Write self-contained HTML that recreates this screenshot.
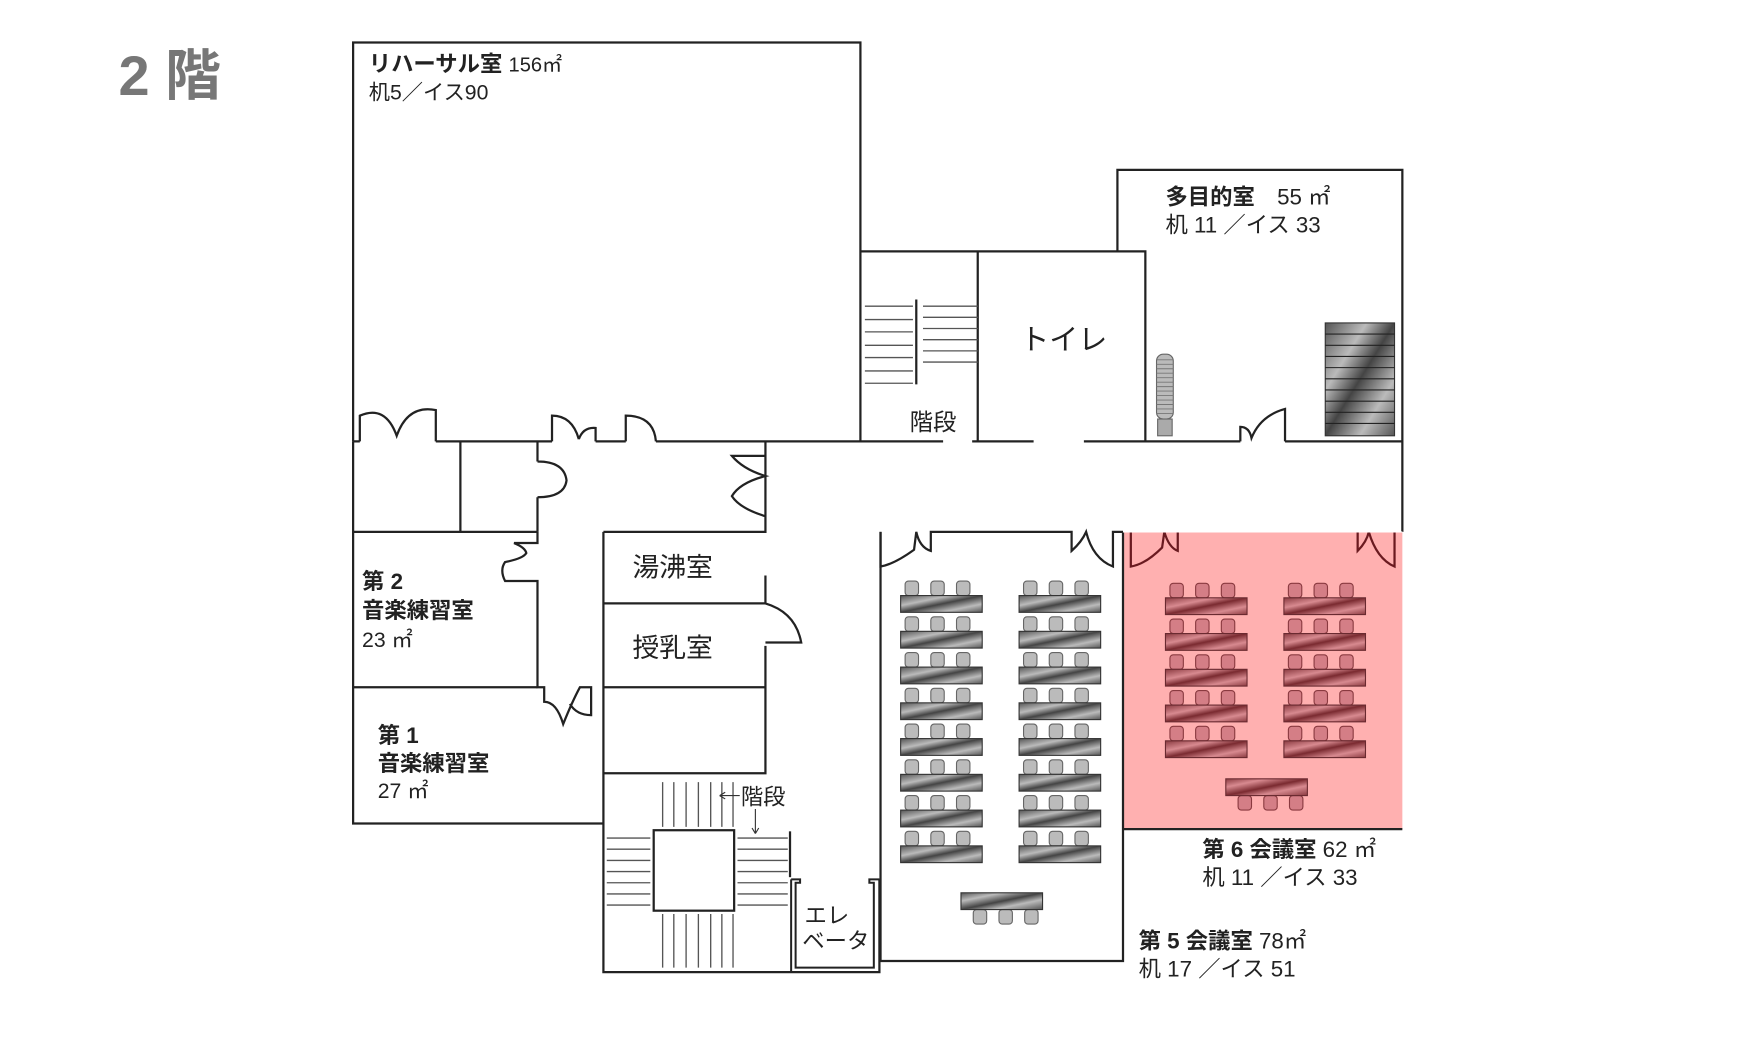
<!DOCTYPE html>
<html><head><meta charset="utf-8"><style>
html,body{margin:0;padding:0;background:#fff;}
svg{display:block}
text{font-family:"Liberation Sans","Noto Sans CJK JP",sans-serif;fill:#222}
.b{font-weight:bold}
</style></head><body>
<svg width="1751" height="1047" viewBox="0 0 1567 937" xmlns="http://www.w3.org/2000/svg">
<defs>
<linearGradient id="gg" x1="0" y1="0" x2="1" y2="1">
<stop offset="0" stop-color="#555"/><stop offset="0.3" stop-color="#bbb"/><stop offset="0.5" stop-color="#444"/><stop offset="0.75" stop-color="#bbb"/><stop offset="1" stop-color="#555"/></linearGradient>
<linearGradient id="rg" x1="0" y1="0" x2="1" y2="1">
<stop offset="0" stop-color="#8a3a40"/><stop offset="0.3" stop-color="#d88a90"/><stop offset="0.5" stop-color="#7a2a30"/><stop offset="0.75" stop-color="#d88a90"/><stop offset="1" stop-color="#8a3a40"/></linearGradient>
<g id="gset"><rect x="4" y="1" width="12" height="13" rx="3" fill="#bbb" stroke="#666"/><rect x="27" y="1" width="12" height="13" rx="3" fill="#bbb" stroke="#666"/><rect x="50" y="1" width="12" height="13" rx="3" fill="#bbb" stroke="#666"/><rect x="0" y="14" width="73" height="15" fill="url(#gg)" stroke="#333"/></g>
<g id="rset"><rect x="4" y="1" width="12" height="13" rx="3" fill="#d47e86" stroke="#8a3a40"/><rect x="27" y="1" width="12" height="13" rx="3" fill="#d47e86" stroke="#8a3a40"/><rect x="50" y="1" width="12" height="13" rx="3" fill="#d47e86" stroke="#8a3a40"/><rect x="0" y="14" width="73" height="15" fill="url(#rg)" stroke="#6a2a30"/></g>
</defs>
<text x="106" y="85" class="b" font-size="50" style="fill:#777">2 階</text>

<rect x="1005" y="476" width="250" height="266" fill="#ffb0b0"/>
<g fill="none" stroke="#222" stroke-width="2">
<path d="M316,395 V38 H770 V395"/>
<path d="M770,225 H1025 V395 M875,225 V395 M1000,225 V152 H1255 V476"/>
<path d="M316,395 H322 M390,395 H494 M533,395 H560 M587,395 H844 M870,395 H925 M970,395 H1110 M1150,395 H1255"/>
<path d="M322,395 V372 Q345,362 355,390 Q365,362 390,367 V395"/>
<path d="M494,395 V372 Q512,372 518,393 M518,393 Q522,382 533,383 V395"/>
<path d="M560,395 V372 Q585,372 587,395"/>
<path d="M1110,395 V382 Q1118,382 1120,392 Q1128,372 1150,366 V395"/>
<path d="M316,395 V737 H540 M316,476 H481 M412,395 V476 M316,615 H481"/>
<path d="M481,395 V413 M481,445 V476 M481,413 Q505,413 507,430 Q505,445 481,445"/>
<path d="M481,476 V486 H460 Q470,490 471,495 Q468,500 452,503 Q447,510 452,520 H481 V615 H487 V628 Q498,628 504,648 Q512,628 519,615 H529 V640 Q516,640 510,630"/>
<path d="M540,476 V870 H787 V787 M540,476 H685 V395 M685,408 H655 Q665,420 685,426 Q662,432 655,444 Q662,455 685,462 V476"/>
<path d="M540,540 H685 V515 M685,578 V615 M540,615 H685 V692 H540 M685,540 Q712,548 717,575 H685"/>
<path d="M708,787 V870 M708,787 H716 V790 H712 V866 H782 V790 H778 V787 H787" stroke-width="1.8"/>
<path d="M707,744 V785"/>
<rect x="585" y="743" width="72" height="72"/>
</g>
<g stroke="#555" stroke-width="1.2">
<path d="M593,700 V740 M603,700 V740 M614,700 V740 M625,700 V740 M636,700 V740 M646,700 V740 M656,700 V740"/>
<path d="M593,818 V866 M603,818 V866 M614,818 V866 M625,818 V866 M636,818 V866 M646,818 V866 M656,818 V866"/>
<path d="M543,750 H582 M543,760 H582 M543,770 H582 M543,780 H582 M543,790 H582 M543,800 H582 M543,810 H582"/>
<path d="M660,750 H705 M660,760 H705 M660,770 H705 M660,780 H705 M660,790 H705 M660,800 H705 M660,810 H705"/>
<path d="M774,274 H817 M774,286 H817 M774,297 H817 M774,309 H817 M774,320 H817 M774,332 H817 M774,343 H817"/>
<path d="M826,274 H875 M826,284 H875 M826,294 H875 M826,304 H875 M826,314 H875 M826,324 H875"/>
</g>
<path d="M820,268 V344" stroke="#222" stroke-width="2"/>
<path d="M644,712 H662 M644,712 l5,-3 M644,712 l5,3 M676,724 V746 M676,746 l-3,-5 M676,746 l3,-5" stroke="#333" stroke-width="1" fill="none"/>

<g fill="none" stroke="#222" stroke-width="2">
<path d="M788,476 V860 H1005 V742 H1255 M1005,476 V742"/>
<path d="M788,476 V507 Q800,505 818,492 L820,476 Q823,490 833,493 V476 H959 V493 Q968,485 972,476 Q978,500 996,507 V476 H1005"/>
</g>
<g fill="none" stroke="#6a1a20" stroke-width="2">
<path d="M1012,476 V507 Q1025,505 1040,490 L1042,476 Q1046,490 1054,493 V476 M1215,476 V493 Q1223,485 1225,476 Q1232,500 1248,507 V476"/>
</g>
<path d="M1005,476 H1255" stroke="#fff" stroke-width="1"/>
<g>
<use href="#gset" x="806" y="519"/><use href="#gset" x="912" y="519"/>
<use href="#gset" x="806" y="551"/><use href="#gset" x="912" y="551"/>
<use href="#gset" x="806" y="583"/><use href="#gset" x="912" y="583"/>
<use href="#gset" x="806" y="615"/><use href="#gset" x="912" y="615"/>
<use href="#gset" x="806" y="647"/><use href="#gset" x="912" y="647"/>
<use href="#gset" x="806" y="679"/><use href="#gset" x="912" y="679"/>
<use href="#gset" x="806" y="711"/><use href="#gset" x="912" y="711"/>
<use href="#gset" x="806" y="743"/><use href="#gset" x="912" y="743"/>
<use href="#gset" transform="translate(933,828) scale(-1,-1)"/>
<use href="#rset" x="1043" y="521"/><use href="#rset" x="1149" y="521"/>
<use href="#rset" x="1043" y="553"/><use href="#rset" x="1149" y="553"/>
<use href="#rset" x="1043" y="585"/><use href="#rset" x="1149" y="585"/>
<use href="#rset" x="1043" y="617"/><use href="#rset" x="1149" y="617"/>
<use href="#rset" x="1043" y="649"/><use href="#rset" x="1149" y="649"/>
<use href="#rset" transform="translate(1170,726) scale(-1,-1)"/>
</g>
<rect x="1186" y="289" width="62" height="101" fill="url(#gg)" stroke="#333"/>
<g stroke="#222" stroke-width="1"><path d="M1186,299 H1248 M1186,309 H1248 M1186,319 H1248 M1186,329 H1248 M1186,339 H1248 M1186,349 H1248 M1186,359 H1248 M1186,369 H1248 M1186,379 H1248"/></g>
<rect x="1035" y="317" width="15" height="58" rx="6" fill="#bbb" stroke="#666"/>
<g stroke="#777" stroke-width="0.8"><path d="M1035,322 H1050 M1035,326 H1050 M1035,330 H1050 M1035,334 H1050 M1035,338 H1050 M1035,342 H1050 M1035,346 H1050 M1035,350 H1050 M1035,354 H1050 M1035,358 H1050 M1035,362 H1050 M1035,366 H1050 M1035,370 H1050"/></g>
<rect x="1036" y="375" width="13" height="15" fill="#aaa" stroke="#666"/>

<text x="330" y="64" font-size="20"><tspan class="b">リハーサル室</tspan> <tspan font-size="18">156㎡</tspan></text>
<text x="330" y="89" font-size="19">机5／イス90</text>
<text x="1043" y="183" font-size="20"><tspan class="b">多目的室</tspan>　55 ㎡</text>
<text x="1043" y="208" font-size="20">机 11 ／イス 33</text>
<text x="913" y="313" font-size="26">トイレ</text>
<text x="814" y="385" font-size="21">階段</text>
<text x="566" y="516" font-size="24">湯沸室</text>
<text x="566" y="588" font-size="24">授乳室</text>
<text x="324" y="527" font-size="20" class="b">第 2</text>
<text x="324" y="553" font-size="20" class="b">音楽練習室</text>
<text x="324" y="579" font-size="19">23 ㎡</text>
<text x="338" y="665" font-size="20" class="b">第 1</text>
<text x="338" y="690" font-size="20" class="b">音楽練習室</text>
<text x="338" y="714" font-size="19">27 ㎡</text>
<text x="663" y="720" font-size="20">階段</text>
<text x="720" y="826" font-size="20">エレ</text>
<text x="718" y="849" font-size="20">ベータ</text>
<text x="1076" y="767" font-size="20"><tspan class="b">第 6 会議室</tspan>  62 ㎡</text>
<text x="1076" y="792" font-size="20">机 11 ／イス 33</text>
<text x="1019" y="849" font-size="20"><tspan class="b">第 5 会議室</tspan> 78㎡</text>
<text x="1019" y="874" font-size="20">机 17 ／イス 51</text>
</svg>
</body></html>
